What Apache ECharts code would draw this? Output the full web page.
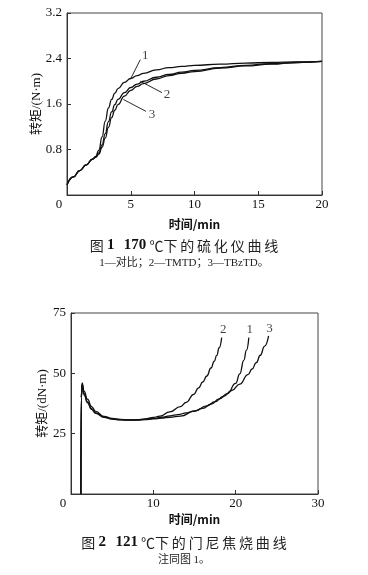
<!DOCTYPE html>
<html><head><meta charset="utf-8">
<script src="https://cdn.jsdelivr.net/npm/echarts@6/dist/echarts.min.js"></script>
<style>html,body{margin:0;padding:0;background:#fff}#c{width:368px;height:575px}</style>
</head><body><div id="c"></div>
<script>
// ---- Figure 1: rheometer curves at 170 °C ----
const time1 = [0,0.5,1,1.5,2,2.25,2.5,2.75,3,3.25,3.5,3.75,4,4.5,5,5.5,6,7,8,9,10,12,14,16,18,20];
const torque1_ref   = [0.18,0.32,0.43,0.53,0.63,0.68,0.79,1.02,1.30,1.53,1.68,1.79,1.87,1.98,2.05,2.10,2.14,2.20,2.24,2.26,2.28,2.30,2.32,2.33,2.34,2.35];
const torque1_tmtd  = [0.18,0.32,0.43,0.53,0.63,0.67,0.74,0.88,1.08,1.29,1.46,1.59,1.68,1.80,1.89,1.95,2.00,2.07,2.12,2.16,2.19,2.24,2.28,2.31,2.33,2.35];
const torque1_tbztd = [0.18,0.32,0.43,0.53,0.63,0.66,0.72,0.84,1.00,1.19,1.36,1.49,1.59,1.74,1.84,1.91,1.96,2.04,2.10,2.14,2.17,2.23,2.27,2.30,2.33,2.35];
const xTicks1 = {min:0, max:20, interval:5};
const yTicks1 = {min:0, max:3.2, interval:0.8};
const curveLabels1 = [["1",6.14,2.45],["2",7.84,1.76],["3",6.67,1.41]];
const leaders1 = [[[4.96,2.03],[5.75,2.38]],[[5.75,2.0],[7.45,1.80]],[[4.42,1.68],[6.2,1.47]]];

// ---- Figure 2: Mooney scorch curves at 121 °C ----
const time2_ref   = [1.2,1.25,1.35,1.6,2,2.5,3,4,5,6,7,8,9,10,11,12,13,14,15,16,17,18,19,20,20.5,21,21.3,21.6];
const torque2_ref = [0,40,46,42.5,39.3,36.2,34.2,32.2,31.3,30.9,30.7,30.7,30.9,31.3,31.8,32.4,32.9,33.6,34.4,35.5,37.2,39.4,41.6,45.8,49.8,55.5,59.5,64.8];
const time2_tmtd   = [1.2,1.25,1.35,1.6,2,2.5,3,4,5,6,7,8,9,10,10.8,12,13.3,14,14.9,15.5,16,16.5,17,17.4,17.7,18,18.3];
const torque2_tmtd = [0,40,45.5,41.5,38.2,35.4,33.6,31.9,31.1,30.8,30.7,30.8,31.1,31.7,32.3,34.0,36.2,38.0,41.3,44.0,46.4,48.9,52.2,55.0,57.4,60.6,64.8];
const time2_tbztd   = [1.2,1.25,1.35,1.6,2,2.5,3,4,5,6,7,8,9,10,11,12,13.3,15,16.5,17.5,18.5,19.5,20.5,21.5,22,22.5,23,23.5,24];
const torque2_tbztd = [0,40,45,41,37.8,35.1,33.4,31.8,31.0,30.7,30.6,30.6,30.8,31.1,31.4,31.8,32.3,34.3,36.5,38.3,40.4,42.8,45.5,49.5,51.8,54.4,57.5,61.2,65.5];
const xTicks2 = {min:0, max:30, interval:10};
const yTicks2 = {min:0, max:75, interval:25};
const curveLabels2 = [["2",18.5,68],["1",21.7,68.3],["3",24.1,68.5]];

const zip = (a,b) => a.map((v,i)=>[v,b[i]]);
const SERIF = '"Liberation Serif","DejaVu Serif",serif';
const MIX = '"Liberation Serif","Noto Sans CJK SC",serif';
const CJK = '"Noto Sans CJK SC",sans-serif';
const INK = '#111';

function xAxisCfg(ticks, gridIndex, name, gap){
  return {
    type:'value', gridIndex, ...ticks, name, nameLocation:'middle', nameGap:gap, nameMoveOverlap:false,
    nameTextStyle:{fontFamily:CJK, fontSize:12, fontWeight:'bold', color:INK},
    axisLine:{lineStyle:{color:'#333', width:1}},
    axisTick:{inside:true, length:4, lineStyle:{color:'#333'}},
    axisLabel:{fontFamily:SERIF, fontSize:13, color:INK, margin:3,
      formatter: v => v===0 ? '{z|0}' : String(v),
      rich:{z:{fontFamily:SERIF, fontSize:13, color:INK, padding:[0,16,0,0]}}},
    splitLine:{show:false}
  };
}
function yAxisCfg(ticks, gridIndex, name, gap, dec){
  return {
    type:'value', gridIndex, ...ticks, name, nameLocation:'middle', nameGap:gap, nameMoveOverlap:false,
    nameTextStyle:{fontFamily:MIX, fontSize:13, color:INK},
    axisLine:{lineStyle:{color:'#333', width:1}},
    axisTick:{inside:true, length:4, lineStyle:{color:'#333'}},
    axisLabel:{fontFamily:SERIF, fontSize:13, color:INK, margin:5,
      formatter: v => v===0 ? '' : (dec ? v.toFixed(1) : String(v))},
    splitLine:{show:false}
  };
}
function curve(data, xi, yi){
  return {type:'line', xAxisIndex:xi, yAxisIndex:yi, data, showSymbol:false, symbol:'none',
    smooth:0.5, smoothMonotone:'x', lineStyle:{color:INK, width:1.3}, z:3};
}
function labelSeries(arr, xi, yi){
  return {type:'scatter', xAxisIndex:xi, yAxisIndex:yi, symbolSize:0,
    data: arr.map(l=>({value:[l[1],l[2]], name:l[0]})),
    label:{show:true, position:'inside', formatter:p=>p.name, fontFamily:SERIF, fontSize:13, color:INK}};
}

const series = [
  curve(zip(time1,torque1_ref),0,0),
  curve(zip(time1,torque1_tmtd),0,0),
  curve(zip(time1,torque1_tbztd),0,0),
  ...leaders1.map(seg => ({type:'line', xAxisIndex:0, yAxisIndex:0, data:seg, symbol:'none',
     lineStyle:{color:INK, width:0.9}})),
  labelSeries(curveLabels1,0,0),
  curve(zip(time2_ref,torque2_ref),1,1),
  curve(zip(time2_tmtd,torque2_tmtd),1,1),
  curve(zip(time2_tbztd,torque2_tbztd),1,1),
  labelSeries(curveLabels2,1,1)
];

const chart = echarts.init(document.getElementById('c'), null, {renderer:'canvas'});
chart.setOption({
  animation:false,
  backgroundColor:'#fff',
  grid:[
    {left:67, top:13, width:255, height:182, show:true, borderColor:'#444', borderWidth:1},
    {left:71, top:313, width:247, height:181, show:true, borderColor:'#444', borderWidth:1}
  ],
  xAxis:[ xAxisCfg(xTicks1,0,'时间/min',23), xAxisCfg(xTicks2,1,'时间/min',19) ],
  yAxis:[ yAxisCfg(yTicks1,0,'转矩/(N·m)',24,true), yAxisCfg(yTicks2,1,'转矩/(dN·m)',22,false) ],
  series,
  graphic:[
    {type:'text', left:'center', top:238, style:{
      text:'{a|图 }{b|1}{a|   }{b|170}{a| ℃下\u2009的\u2009硫\u2009化\u2009仪\u2009曲\u2009线}',
      rich:{a:{fontFamily:CJK, fontSize:14, fill:'#222'}, b:{fontFamily:SERIF, fontSize:15, fontWeight:'bold', fill:'#111'}}}},
    {type:'text', left:'center', top:258, style:{
      text:'1—对比；2—TMTD；3—TBzTD。', font:'11px '+MIX, fill:'#222'}},
    {type:'text', left:'center', top:535, style:{
      text:'{a|图 }{b|2}{a|   }{b|121}{a| ℃下\u2009的\u2009门\u2009尼\u2009焦\u2009烧\u2009曲\u2009线}',
      rich:{a:{fontFamily:CJK, fontSize:14, fill:'#222'}, b:{fontFamily:SERIF, fontSize:15, fontWeight:'bold', fill:'#111'}}}},
    {type:'text', left:'center', top:555, style:{
      text:'注同图 1。', font:'11px '+MIX, fill:'#222'}}
  ]
});
</script></body></html>
